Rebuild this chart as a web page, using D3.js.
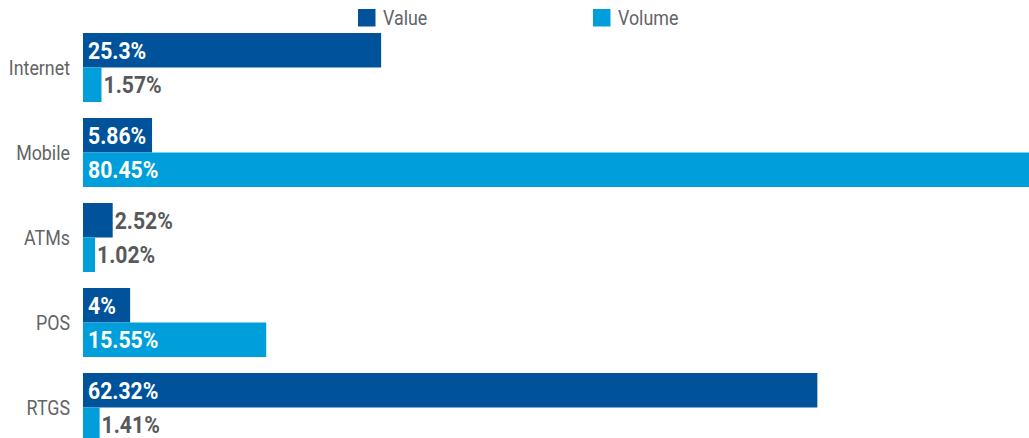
<!DOCTYPE html>
<html>
<head>
<meta charset="utf-8">
<script src="https://cdn.jsdelivr.net/npm/d3@7"></script>
<style>
  body { margin: 0; background: #fff; }
  svg { display: block; }
</style>
</head>
<body>
<script>
var categories = ["Internet", "Mobile", "ATMs", "POS", "RTGS"];
var series_names = ["Value", "Volume"];
var value_pct = [25.3, 5.86, 2.52, 4, 62.32];
var volume_pct = [1.57, 80.45, 1.02, 15.55, 1.41];
var value_labels = ["25.3%", "5.86%", "2.52%", "4%", "62.32%"];
var volume_labels = ["1.57%", "80.45%", "1.02%", "15.55%", "1.41%"];

var series_colours = ["#00529b", "#009fdb"];
var label_in_fill = "#ffffff";
var label_out_fill = "#58595b";
var axis_text_fill = "#636466";
var font_family = "Roboto, 'Liberation Sans', sans-serif";
var squeeze = 0.87;        // narrow the regular text, the original face is condensed
var label_squeeze = 0.9;

var svg_width = 1029, svg_height = 438;

var svg = d3.select("body").append("svg")
  .attr("width", svg_width).attr("height", svg_height);

var rows = categories.map(function(c, i) {
  return { cat: c, bars: [
    { s: 0, v: value_pct[i], label: value_labels[i] },
    { s: 1, v: volume_pct[i], label: volume_labels[i] } ] };
});

// step of 85 px, two bars of 34.5 px each, gap of 16 px
var y = d3.scaleBand().domain(categories)
  .range([33, 33 + 85 * 4 + 69]).paddingInner(16 / 85).paddingOuter(0);
var ySub = d3.scaleBand().domain([0, 1]).range([0, y.bandwidth()]);
var x = d3.scaleLinear().domain([0, 80.45]).range([83, 1031]);

var yAxis = d3.axisLeft(y).tickSize(0).tickPadding(0);
var ag = svg.append("g").attr("transform", "translate(83,0)").call(yAxis);
ag.select(".domain").remove();
ag.selectAll("text")
  .attr("x", -13 / squeeze)
  .attr("dy", "0.35em")
  .attr("transform", "scale(" + squeeze + ",1)")
  .style("font-family", font_family)
  .style("font-size", "20.5px")
  .attr("fill", axis_text_fill);

var groups = svg.selectAll("g.row").data(rows).enter().append("g")
  .attr("class", "row")
  .attr("transform", function(d) { return "translate(0," + y(d.cat) + ")"; });

var bars = groups.selectAll("g.bar").data(function(d) { return d.bars; })
  .enter().append("g").attr("class", "bar");

bars.append("rect")
  .attr("x", x(0))
  .attr("y", function(d) { return ySub(d.s); })
  .attr("width", function(d) { return x(d.v) - x(0); })
  .attr("height", ySub.bandwidth())
  .attr("fill", function(d) { return series_colours[d.s]; });

bars.append("text")
  .text(function(d) { return d.label; })
  .style("font-family", font_family)
  .style("font-size", "23.5px")
  .style("font-weight", "bold")
  .each(function(d) {
    var w = this.getComputedTextLength() * label_squeeze;
    var bw = x(d.v) - x(0);
    var inside = bw >= w + 6;
    var tx = inside ? x(0) + 5 : x(d.v) + 2;
    var ty = ySub(d.s) + ySub.bandwidth() / 2 + 8.3;
    d3.select(this)
      .attr("transform", "translate(" + tx + "," + ty + ") scale(" + label_squeeze + ",1)")
      .attr("fill", inside ? label_in_fill : label_out_fill);
  });

// legend
var legend_x = [358, 593];
var lg = svg.selectAll("g.legend").data(series_names).enter().append("g")
  .attr("class", "legend")
  .attr("transform", function(d, i) { return "translate(" + legend_x[i] + ",9)"; });
lg.append("rect").attr("width", 17.5).attr("height", 17.5)
  .attr("fill", function(d, i) { return series_colours[i]; });
lg.append("text").text(function(d) { return d; })
  .attr("transform", "translate(25,16) scale(" + squeeze + ",1)")
  .style("font-family", font_family)
  .style("font-size", "20.5px")
  .attr("fill", axis_text_fill);
</script>
</body>
</html>
